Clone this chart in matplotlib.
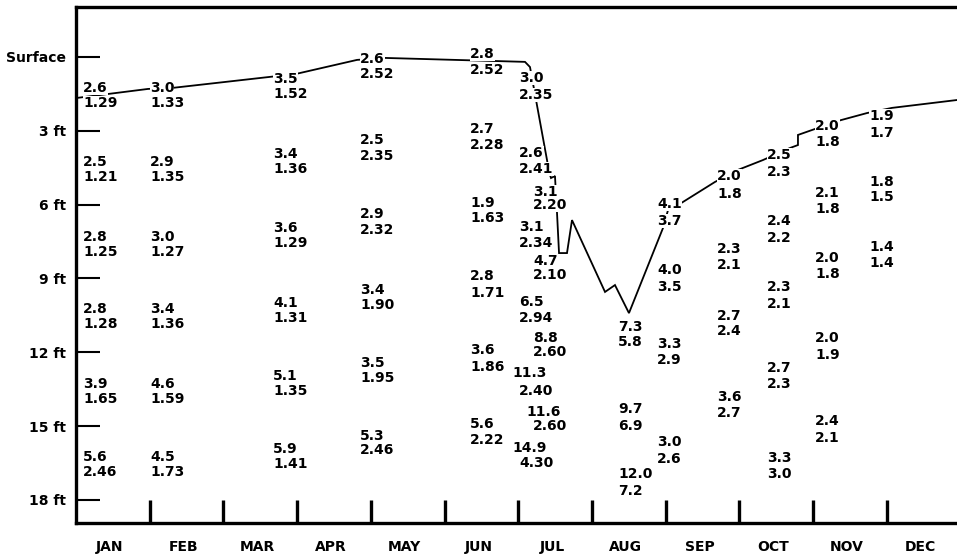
import matplotlib.pyplot as plt

# month names and depth scale
months = ['JAN', 'FEB', 'MAR', 'APR', 'MAY', 'JUN',
          'JUL', 'AUG', 'SEP', 'OCT', 'NOV', 'DEC']
depth_ticks = [0, 3, 6, 9, 12, 15, 18]
depth_labels = ['Surface', '3 ft', '6 ft', '9 ft', '12 ft', '15 ft', '18 ft']

# profile line (month position, depth in ft)
line_month = [0.0, 0.977, 1.303, 2.632, 2.985, 3.813, 4.193, 6.092, 6.160,
              6.391, 6.418, 6.445, 6.499, 6.513, 6.526, 6.554, 6.662, 6.730,
              7.178, 7.313, 7.503, 7.965, 8.033, 8.168, 8.670, 8.982, 9.321,
              9.688, 9.796, 9.796, 9.986, 10.339, 10.733, 11.072, 11.954]
line_depth = [1.67, 1.30, 1.26, 0.81, 0.69, 0.12, 0.04, 0.20, 0.41,
              4.19, 4.67, 4.92, 4.84, 5.61, 6.30, 7.97, 7.97, 6.63,
              9.55, 9.27, 10.41, 6.95, 6.22, 6.02, 5.08, 4.59, 4.19,
              3.70, 3.58, 3.17, 2.97, 2.60, 2.28, 2.07, 1.75]

# sample labels: upper value / lower value, with their positions
lab_top = ['2.6', '2.5', '2.8', '2.8', '3.9', '5.6',            # JAN
           '3.0', '2.9', '3.0', '3.4', '4.6', '4.5',            # FEB
           '3.5', '3.4', '3.6', '4.1', '5.1', '5.9',            # MAR
           '2.6', '2.5', '2.9', '3.4', '3.5', '5.3',            # MAY
           '2.8', '2.7', '1.9', '2.8', '3.6', '5.6',            # JUN
           '3.0', '2.6', '3.1', '3.1', '4.7', '6.5', '8.8', '11.3', '11.6', '14.9',  # JUL
           '7.3', '9.7', '12.0',                                # AUG
           '4.1', '4.0', '3.3', '3.0',                          # late AUG
           '2.0', '2.3', '2.7', '3.6',                          # SEP
           '2.5', '2.4', '2.3', '2.7', '3.3',                   # OCT
           '2.0', '2.1', '2.0', '2.0', '2.4',                   # NOV
           '1.9', '1.8', '1.4']                                 # late NOV
lab_bot = ['1.29', '1.21', '1.25', '1.28', '1.65', '2.46',
           '1.33', '1.35', '1.27', '1.36', '1.59', '1.73',
           '1.52', '1.36', '1.29', '1.31', '1.35', '1.41',
           '2.52', '2.35', '2.32', '1.90', '1.95', '2.46',
           '2.52', '2.28', '1.63', '1.71', '1.86', '2.22',
           '2.35', '2.41', '2.20', '2.34', '2.10', '2.94', '2.60', '2.40', '2.60', '4.30',
           '5.8', '6.9', '7.2',
           '3.7', '3.5', '2.9', '2.6',
           '1.8', '2.1', '2.4', '2.7',
           '2.3', '2.2', '2.1', '2.3', '3.0',
           '1.8', '1.8', '1.8', '1.9', '2.1',
           '1.7', '1.5', '1.4']
lab_x_top = [0.095] * 6 + [1.004] * 6 + [2.673] * 6 + [3.853] * 6 + [5.346] * 6 + \
            [6.011, 6.011, 6.201, 6.011, 6.201, 6.011, 6.201, 5.916, 6.106, 5.916] + \
            [7.354] * 3 + [7.883] * 4 + [8.697] * 4 + [9.376] * 5 + [10.027] * 5 + [10.760] * 3
lab_x_bot = [0.095] * 6 + [1.004] * 6 + [2.673] * 6 + [3.853] * 6 + [5.346] * 6 + \
            [6.011, 6.011, 6.201, 6.011, 6.201, 6.011, 6.201, 6.011, 6.201, 6.011] + \
            [7.354] * 3 + [7.883] * 4 + [8.697] * 4 + [9.376] * 5 + [10.027] * 5 + [10.760] * 3
lab_d_top = [1.22, 4.19, 7.24, 10.20, 13.21, 16.18,
             1.22, 4.19, 7.24, 10.20, 13.21, 16.18,
             0.85, 3.90, 6.91, 9.92, 12.89, 15.89,
             0.02, 3.33, 6.34, 9.39, 12.36, 15.33,
             -0.20, 2.85, 5.89, 8.86, 11.83, 14.84,
             0.81, 3.86, 5.41, 6.83, 8.23, 9.88, 11.38, 12.80, 14.37, 15.85,
             10.93, 14.23, 16.87,
             5.93, 8.58, 11.59, 15.57,
             4.76, 7.76, 10.45, 13.74,
             3.94, 6.59, 9.27, 12.56, 16.22,
             2.76, 5.45, 8.09, 11.38, 14.72,
             2.32, 5.04, 7.68]
lab_d_bot = [1.83, 4.80, 7.85, 10.81, 13.82, 16.79,
             1.83, 4.80, 7.85, 10.81, 13.82, 16.79,
             1.46, 4.51, 7.52, 10.53, 13.50, 16.50,
             0.63, 3.98, 6.99, 10.00, 12.97, 15.93,
             0.45, 3.50, 6.50, 9.55, 12.52, 15.49,
             1.50, 4.51, 5.97, 7.52, 8.80, 10.53, 11.95, 13.50, 14.92, 16.46,
             11.54, 14.92, 17.56,
             6.59, 9.27, 12.24, 16.26,
             5.49, 8.41, 11.06, 14.39,
             4.63, 7.28, 9.96, 13.25, 16.87,
             3.41, 6.10, 8.74, 12.07, 15.41,
             3.01, 5.65, 8.33]

fig = plt.figure(figsize=(9.57, 5.56), dpi=100)
ax = fig.add_axes([76 / 957, 33 / 556, 900 / 957, 516.5 / 556])

ax.plot(line_month, line_depth, color='black', lw=1.3, zorder=2,
        solid_joinstyle='miter')

# labels sit on a white patch so the line is hidden behind them
mask = dict(boxstyle='square,pad=0', fc='white', ec='none')
for i in range(len(lab_bot)):
    ax.text(lab_x_bot[i], lab_d_bot[i], lab_bot[i], ha='left',
            va='center_baseline', fontsize=10, fontweight='bold',
            zorder=3, bbox=mask)
for i in range(len(lab_top)):
    ax.text(lab_x_top[i], lab_d_top[i], lab_top[i], ha='left',
            va='center_baseline', fontsize=10, fontweight='bold',
            zorder=4, bbox=mask)

ax.set_xlim(0, 900 / 73.7)
ax.set_ylim(18.94, -2.05)

# axis ticks
ax.set_yticks(depth_ticks)
ax.set_yticklabels(depth_labels, fontsize=10, fontweight='bold')
ax.tick_params(axis='y', direction='in', length=17.3, width=1.5, pad=7)

ax.set_xticks(range(1, 12))
ax.set_xticklabels([])
ax.set_xticks([m + 0.46 for m in range(12)], minor=True)
ax.set_xticklabels(months, minor=True, fontsize=10, fontweight='bold')
ax.tick_params(axis='x', which='major', direction='in', length=16.5, width=2.4)
ax.tick_params(axis='x', which='minor', length=0, pad=12)

for side in ['left', 'top', 'bottom']:
    ax.spines[side].set_linewidth(2.4)
ax.spines['right'].set_visible(False)

plt.savefig('out.png', dpi=100)
